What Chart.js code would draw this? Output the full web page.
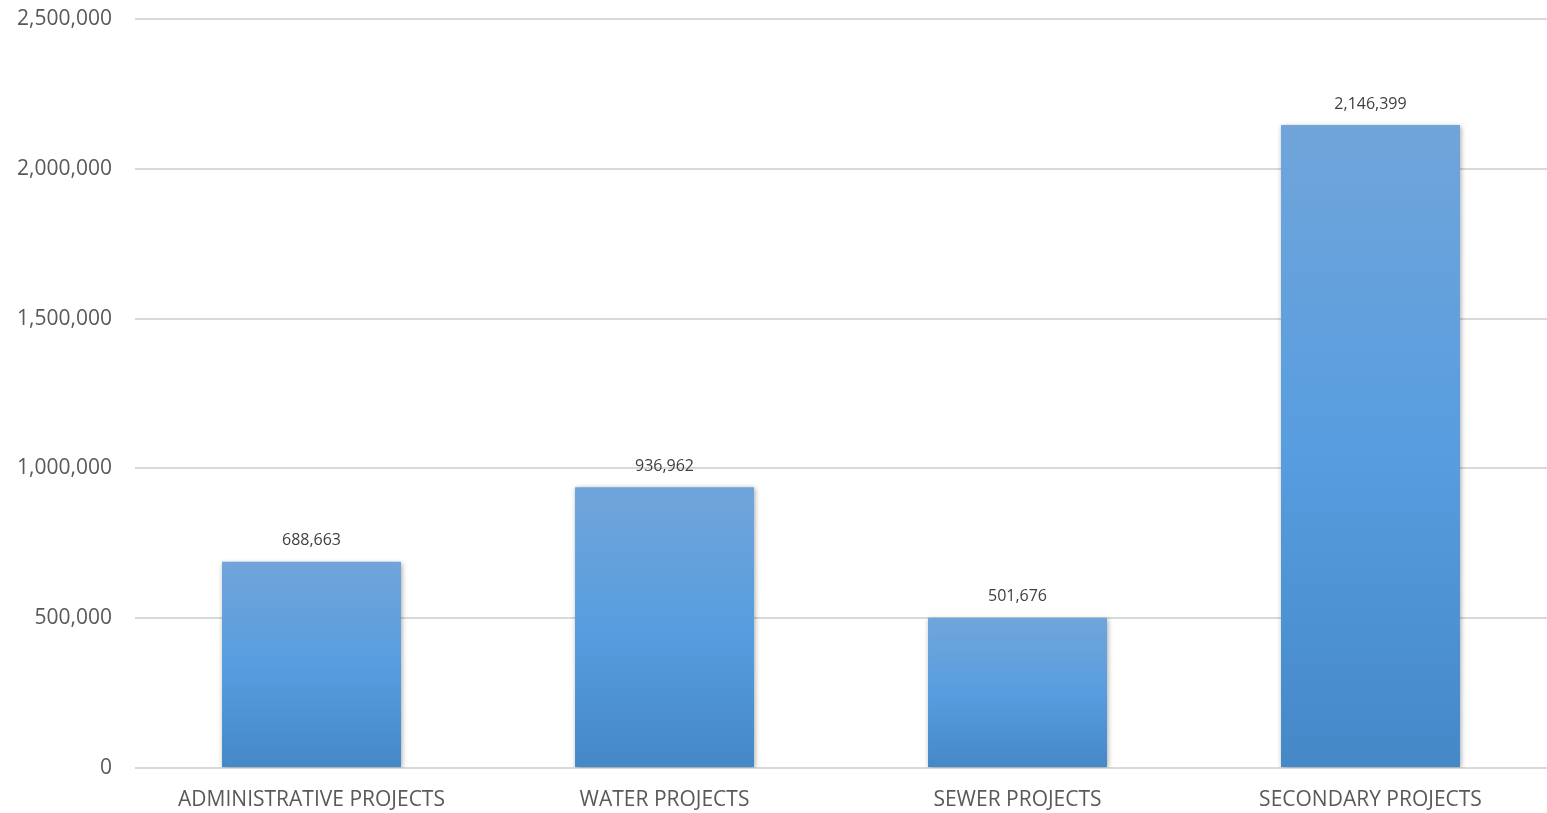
<!DOCTYPE html>
<html>
<head>
<meta charset="utf-8">
<script src="https://cdn.jsdelivr.net/npm/chart.js@4/dist/chart.umd.min.js"></script>
<style>
    html, body { margin: 0; padding: 0; background: #fff; }
    #wrap { width: 1547px; height: 813px; }
</style>
</head>
<body>
<div id="wrap"><canvas id="canvas"></canvas></div>
<script>
const categories = ['ADMINISTRATIVE PROJECTS', 'WATER PROJECTS', 'SEWER PROJECTS', 'SECONDARY PROJECTS'];
const values = [688663, 936962, 501676, 2146399];
const yTicks = [0, 500000, 1000000, 1500000, 2000000, 2500000];

const fontFamily = "'Open Sans', 'Noto Sans', sans-serif";

// gradient for each bar, from its top down to the zero line
function barFill(context) {
    const chart = context.chart;
    const y = chart.scales.y;
    if (!y || context.dataIndex === undefined) return '#5b9bd5';
    const top = y.getPixelForValue(values[context.dataIndex]);
    const bottom = y.getPixelForValue(0);
    if (!isFinite(top) || !isFinite(bottom) || top === bottom) return '#5b9bd5';
    const g = chart.ctx.createLinearGradient(0, top, 0, bottom);
    g.addColorStop(0, '#70a5da');
    g.addColorStop(0.5, '#589ddf');
    g.addColorStop(1, '#4488c8');
    return g;
}

const barShadow = {
    id: 'barShadow',
    beforeDatasetsDraw(chart) {
        const c = chart.ctx;
        c.save();
        c.shadowColor = 'rgba(0,0,0,0.35)';
        c.shadowBlur = 5;
        c.shadowOffsetX = 1;
        c.shadowOffsetY = 1;
    },
    afterDatasetsDraw(chart) {
        chart.ctx.restore();
    }
};

const valueLabels = {
    id: 'valueLabels',
    afterDatasetsDraw(chart) {
        const c = chart.ctx;
        const meta = chart.getDatasetMeta(0);
        c.save();
        c.font = '16px ' + fontFamily;
        c.fillStyle = '#404040';
        c.textAlign = 'center';
        c.textBaseline = 'middle';
        meta.data.forEach(function (bar, i) {
            c.fillText(values[i].toLocaleString('en-US'), bar.x, bar.y - 21);
        });
        c.restore();
    }
};

const ctx = document.getElementById('canvas').getContext('2d');
const myChart = new Chart(ctx, {
    type: 'bar',
    data: {
        labels: categories,
        datasets: [{
            data: values,
            backgroundColor: barFill,
            borderWidth: 0,
            barPercentage: 0.507,
            categoryPercentage: 1
        }]
    },
    plugins: [barShadow, valueLabels],
    options: {
        responsive: true,
        maintainAspectRatio: false,
        animation: false,
        layout: { padding: { top: 19, right: 0, left: 0, bottom: 0 } },
        plugins: {
            legend: { display: false },
            tooltip: { enabled: false }
        },
        scales: {
            x: {
                grid: { display: false, drawTicks: false },
                border: { display: false },
                ticks: {
                    color: '#595959',
                    font: { family: fontFamily, size: 21 },
                    padding: 19,
                    maxRotation: 0,
                    autoSkip: false
                },
                afterFit(scale) { scale.height = 45; }
            },
            y: {
                min: 0,
                max: 2500000,
                afterBuildTicks(scale) {
                    scale.ticks = yTicks.map(function (v) { return { value: v }; });
                },
                grid: { color: '#d9d9d9', lineWidth: 2, drawTicks: false },
                border: { display: false },
                ticks: {
                    color: '#595959',
                    font: { family: fontFamily, size: 21 },
                    padding: 23,
                    callback: function (v) { return Number(v).toLocaleString('en-US'); }
                },
                afterFit(scale) {
                    scale.width = 135;
                    scale.paddingTop = 0;
                    scale.paddingBottom = 0;
                }
            }
        }
    }
});
</script>
</body>
</html>
